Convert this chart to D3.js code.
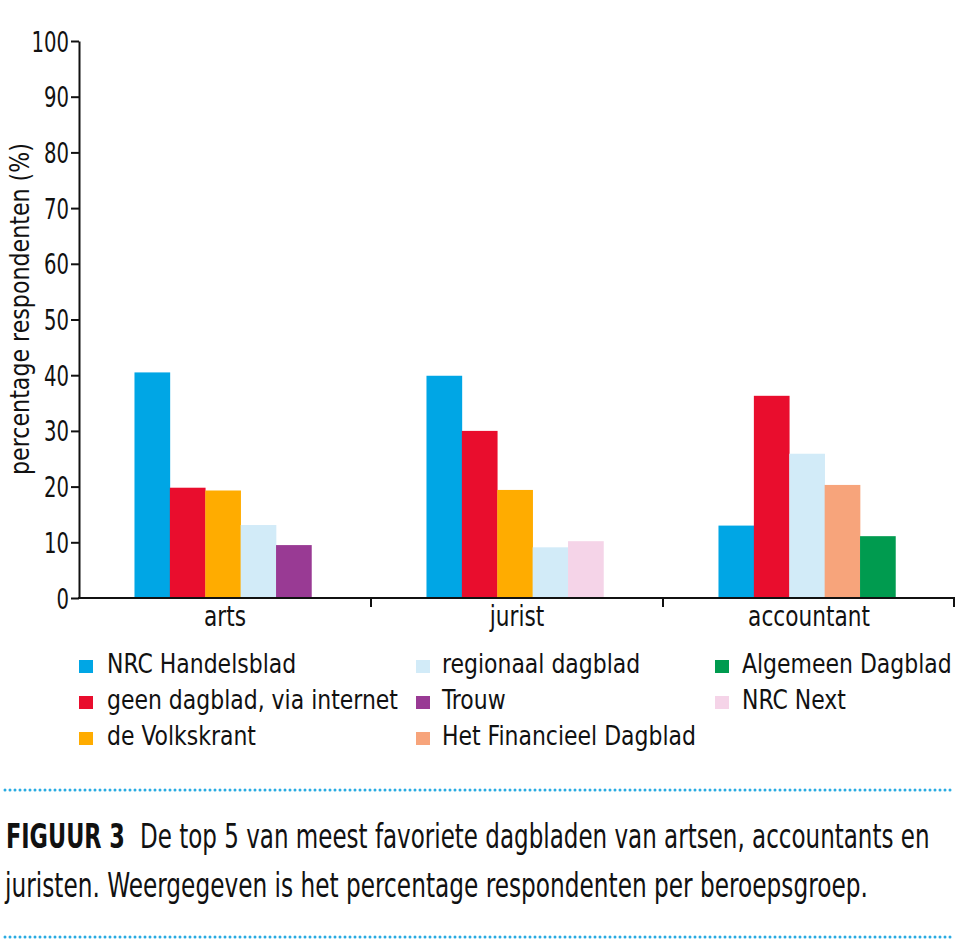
<!DOCTYPE html>
<html><head><meta charset="utf-8">
<script src="https://cdn.jsdelivr.net/npm/d3@7"></script>
<style>
html,body{margin:0;padding:0;background:#fff;}
text{font-family:"DejaVu Sans Condensed","Liberation Sans Narrow",sans-serif;fill:#111;}
</style></head>
<body>
<svg id="chart" width="956" height="950"></svg>
<script>
const categories = ["arts", "jurist", "accountant"];
const seriesNames = ["NRC Handelsblad", "geen dagblad, via internet", "de Volkskrant",
  "regionaal dagblad", "Trouw", "Het Financieel Dagblad", "Algemeen Dagblad", "NRC Next"];
const seriesColors = ["#00a6e5", "#e90d2d", "#ffac00", "#d2ebf8", "#993a94", "#f7a47b", "#009b4f", "#f5d4e8"];
const artsSeries = ["NRC Handelsblad", "geen dagblad, via internet", "de Volkskrant", "regionaal dagblad", "Trouw"];
const artsValues = [40.5, 19.8, 19.3, 13.1, 9.5];
const juristSeries = ["NRC Handelsblad", "geen dagblad, via internet", "de Volkskrant", "regionaal dagblad", "NRC Next"];
const juristValues = [39.9, 30.0, 19.4, 9.1, 10.2];
const accountantSeries = ["NRC Handelsblad", "geen dagblad, via internet", "regionaal dagblad", "Het Financieel Dagblad", "Algemeen Dagblad"];
const accountantValues = [13.0, 36.3, 25.9, 20.3, 11.1];
const yTicks = [0, 10, 20, 30, 40, 50, 60, 70, 80, 90, 100];
const legendColumns = [
  ["NRC Handelsblad", "geen dagblad, via internet", "de Volkskrant"],
  ["regionaal dagblad", "Trouw", "Het Financieel Dagblad"],
  ["Algemeen Dagblad", "NRC Next"]
];
const yLabel = "percentage respondenten (%)";
const captionBold = "FIGUUR 3";
const captionLine1 = "De top 5 van meest favoriete dagbladen van artsen, accountants en";
const captionLine2 = "juristen. Weergegeven is het percentage respondenten per beroepsgroep.";

const groups = [
  {cat: "arts", series: artsSeries, values: artsValues},
  {cat: "jurist", series: juristSeries, values: juristValues},
  {cat: "accountant", series: accountantSeries, values: accountantValues}
];
const color = d3.scaleOrdinal().domain(seriesNames).range(seriesColors);

const svg = d3.select("#chart");
const mLeft = 79, mRight = 955, mTop = 41, mBottom = 598;

// text squeezed horizontally with a transform (mimics the condensed typeface)
function squeezed(parent, px, py, str, size, opts) {
  const o = opts || {};
  const gg = parent.append("g");
  const t = gg.append("text").style("font-size", size + "px").text(str);
  if (o.anchor) t.attr("text-anchor", o.anchor);
  if (o.bold) t.style("font-weight", "bold");
  if (o.dy) t.attr("dy", o.dy);
  const w = t.node().getComputedTextLength();
  const sx = o.width ? o.width / w : (o.ratio || 1);
  gg.attr("transform", `translate(${px},${py})${o.rotate ? ` rotate(${o.rotate})` : ""} scale(${sx},1)`);
  return t;
}

const x = d3.scaleBand().domain(categories).range([mLeft, mRight]).padding(0);
const x1 = d3.scaleBand().domain(d3.range(5)).range([x.bandwidth() * 0.19, x.bandwidth() * 0.796]).padding(0);
const y = d3.scaleLinear().domain([0, 100]).range([mBottom, mTop]);

// bars
const g = svg.append("g");
groups.forEach(grp => {
  g.selectAll(null).data(grp.values.map((v, i) => ({v, s: grp.series[i], i})))
    .enter().append("rect")
    .attr("x", d => x(grp.cat) + x1(d.i))
    .attr("width", x1.bandwidth() + 0.3)
    .attr("y", d => y(d.v))
    .attr("height", d => y(0) - y(d.v))
    .attr("fill", d => color(d.s));
});

// y axis
const yAxis = svg.append("g").attr("transform", `translate(${mLeft},0)`)
  .call(d3.axisLeft(y).tickValues(yTicks).tickSize(8).tickSizeOuter(0).tickPadding(2));
yAxis.select(".domain").attr("stroke", "#111").attr("stroke-width", 2);
yAxis.selectAll(".tick line").attr("stroke", "#111").attr("stroke-width", 2);
yAxis.selectAll(".tick text").style("font-size", "28px").attr("fill", "#111").attr("dy", "0.36em")
  .each(function () {
    const el = d3.select(this);
    const tx = +el.attr("x");
    el.attr("x", 0).attr("transform", `translate(${tx},0) scale(0.78,1)`);
  });

// x axis
const xAxis = svg.append("g").attr("transform", `translate(0,${mBottom})`)
  .call(d3.axisBottom(x).tickSize(0).tickSizeOuter(0).tickPadding(8));
xAxis.select(".domain").attr("stroke", "#111").attr("stroke-width", 2)
  .attr("d", `M${mLeft - 1},0H${mRight}`);
xAxis.selectAll(".tick text").style("font-size", "28px").attr("fill", "#111")
  .attr("transform", "scale(0.86,1)");
// boundary ticks
xAxis.selectAll("line.bt").data(categories.slice(1).concat(["__end"]))
  .enter().append("line").attr("class", "bt")
  .attr("x1", d => d === "__end" ? mRight - 1 : x(d)).attr("x2", d => d === "__end" ? mRight - 1 : x(d))
  .attr("y1", 0).attr("y2", 9).attr("stroke", "#111").attr("stroke-width", 2);

// y label
squeezed(svg, 29, (143 + 475) / 2, yLabel, 26, {anchor: "middle", rotate: -90, width: 332});

// legend
const colX = [79, 416, 715];
const textOff = [28, 26, 27];
const rowBase = [673, 709, 745];
let legendRatio = null;
{
  const probe = svg.append("text").style("font-size", "27px").text(legendColumns[0][1]);
  legendRatio = 291 / probe.node().getComputedTextLength();
  probe.remove();
}
legendColumns.forEach((col, ci) => {
  col.forEach((name, ri) => {
    svg.append("rect").attr("x", colX[ci]).attr("y", rowBase[ri] - 13).attr("width", 14).attr("height", 13)
      .attr("fill", color(name));
    squeezed(svg, colX[ci] + textOff[ci], rowBase[ri], name, 27, {ratio: legendRatio});
  });
});

// dotted lines
[790, 937].forEach(yy => {
  svg.append("line").attr("x1", 5).attr("x2", 954).attr("y1", yy).attr("y2", yy)
    .attr("stroke", "#29abe2").attr("stroke-width", 3).attr("stroke-linecap", "round")
    .attr("stroke-dasharray", "0,5");
});

// caption
squeezed(svg, 6, 848, captionBold, 34, {bold: true, width: 119});
squeezed(svg, 140, 848, captionLine1, 34, {width: 790});
squeezed(svg, 5, 897, captionLine2, 34, {width: 863});
</script>
</body></html>
